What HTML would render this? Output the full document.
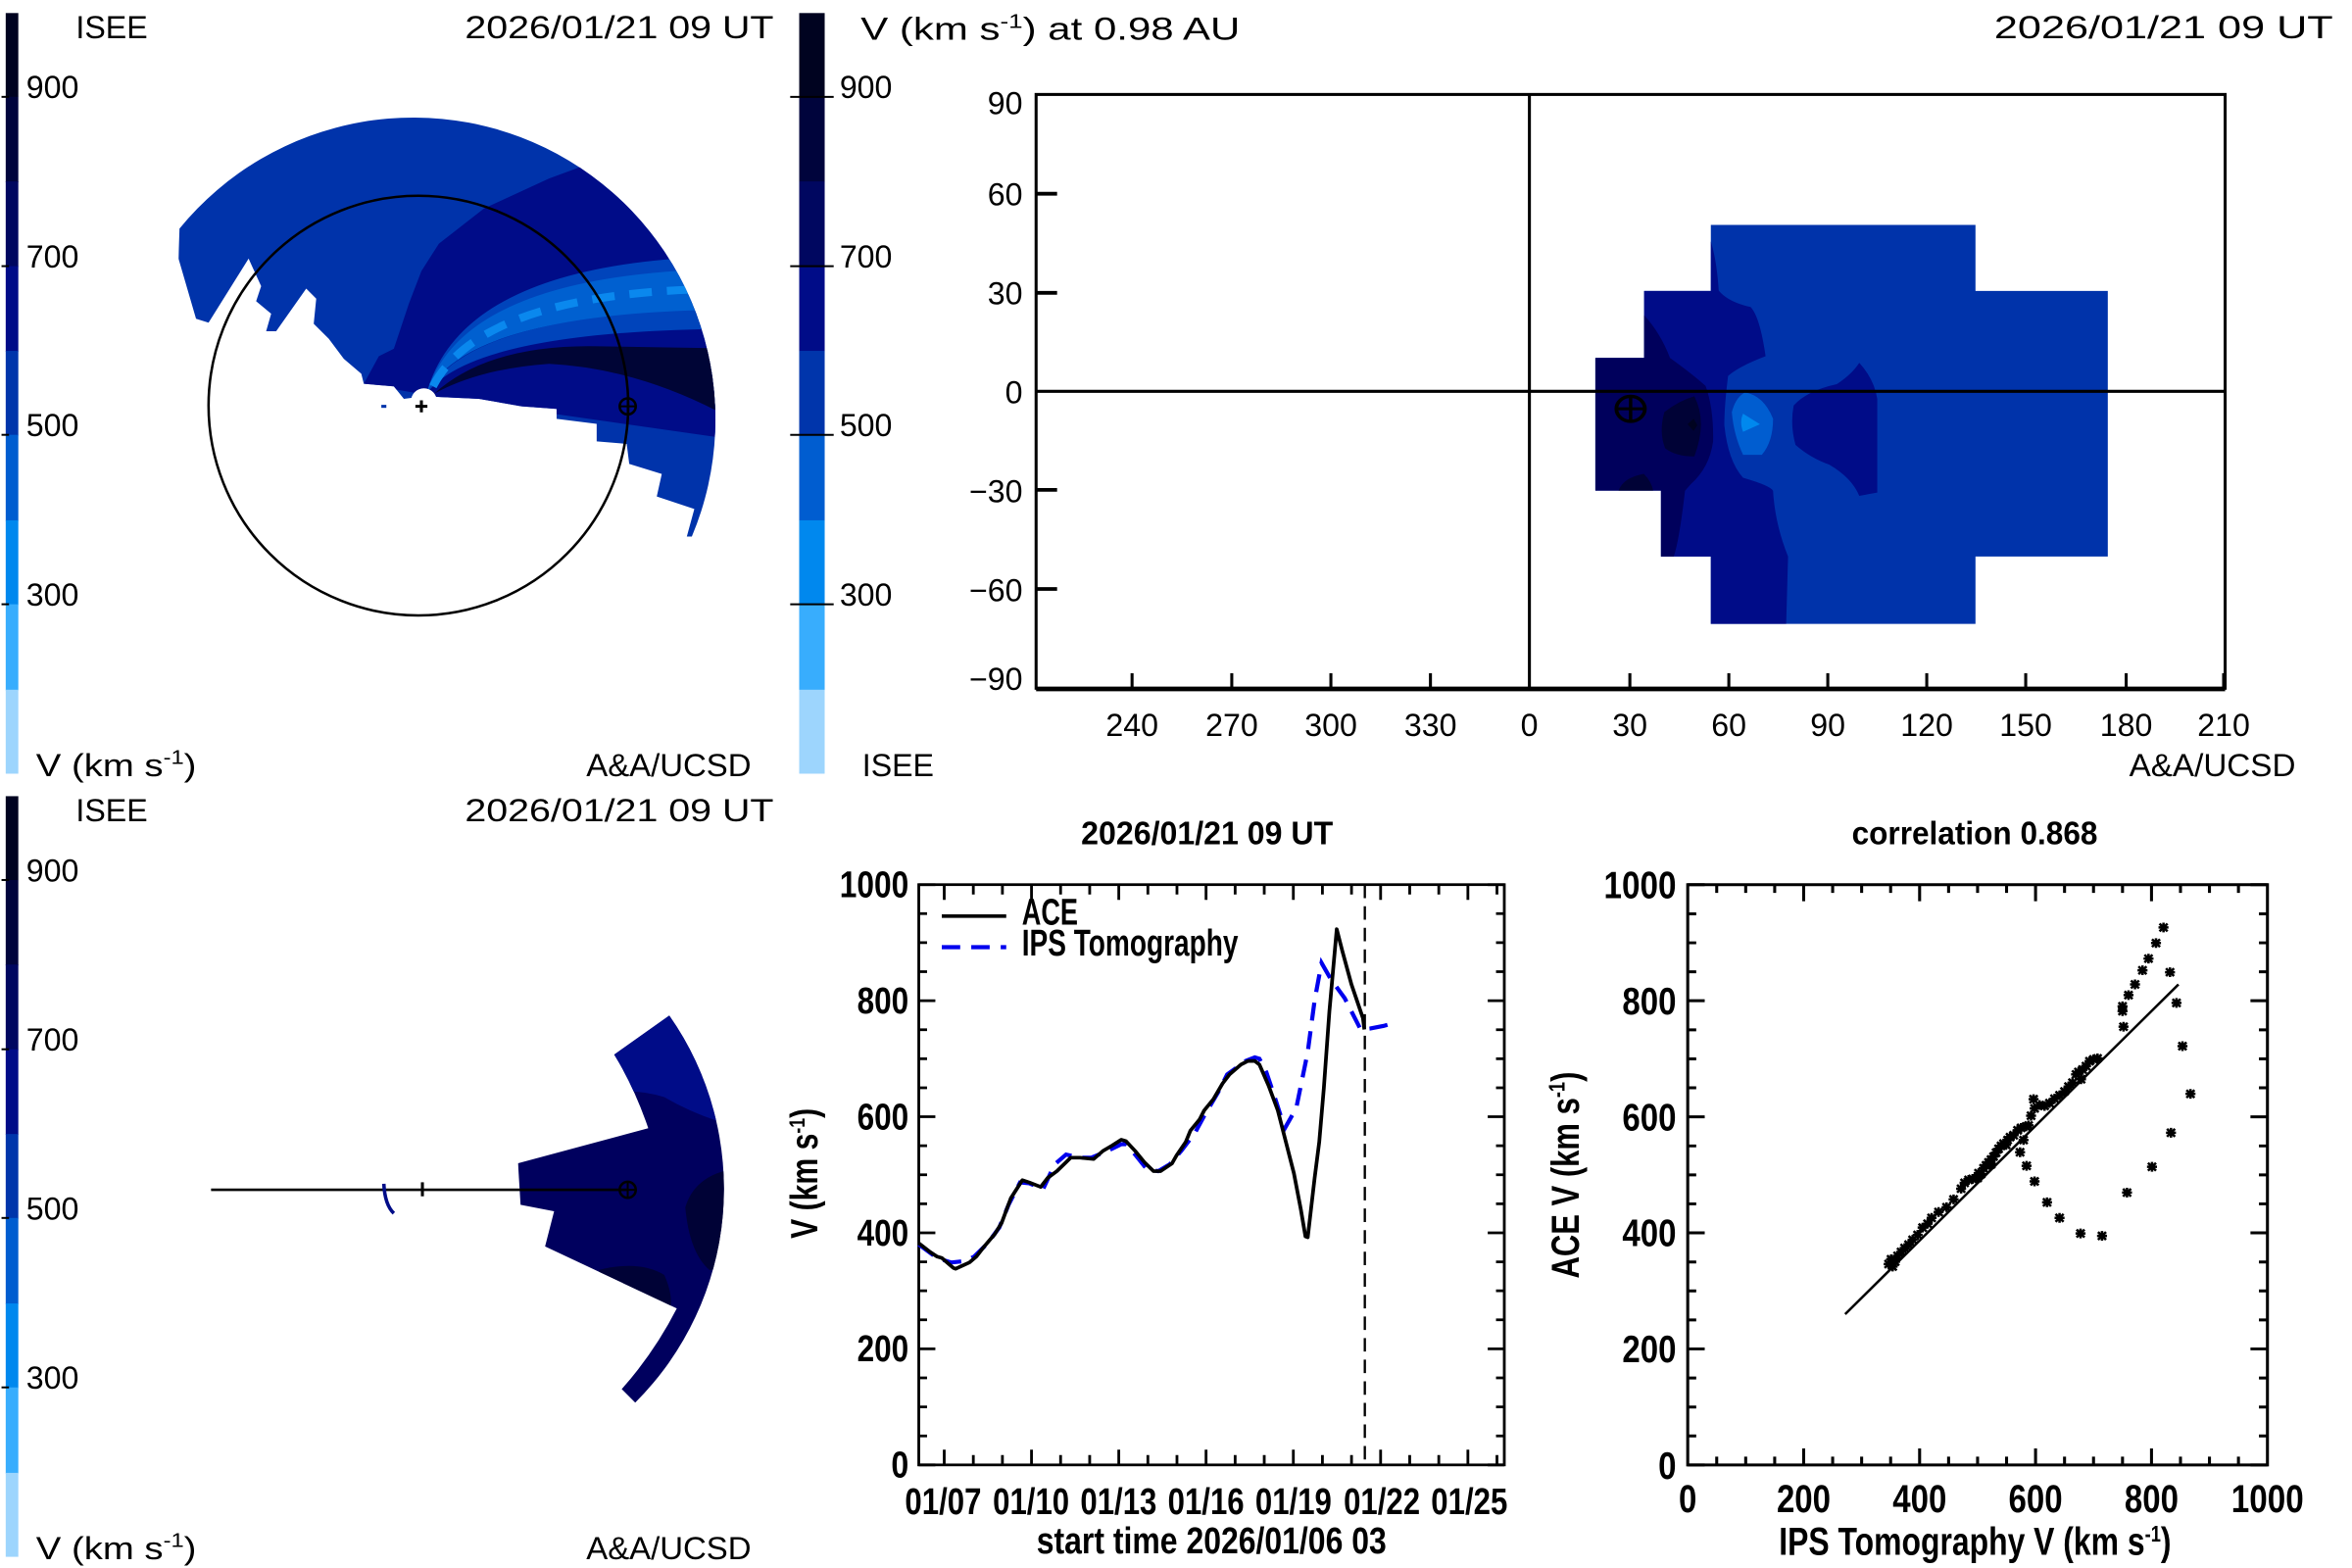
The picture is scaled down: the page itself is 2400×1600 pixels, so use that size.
<!DOCTYPE html>
<html><head><meta charset="utf-8"><style>
html,body{margin:0;padding:0;background:#fff;}
svg{display:block;}
.t{font-family:"Liberation Sans",sans-serif;fill:#000;}
.b{font-family:"Liberation Sans",sans-serif;font-weight:bold;fill:#000;}
</style></head><body>
<svg width="2400" height="1600" viewBox="0 0 1568.6 1045.75" xmlns="http://www.w3.org/2000/svg">
<defs>
<g id="cbar">
<rect x="0" y="8.7" width="1" height="56" fill="#000320"/>
<rect x="0" y="64.6" width="1" height="57" fill="#00043c"/>
<rect x="0" y="121" width="1" height="57" fill="#000760"/>
<rect x="0" y="177.5" width="1" height="57" fill="#000c88"/>
<rect x="0" y="234" width="1" height="56.5" fill="#0035ab"/>
<rect x="0" y="290" width="1" height="57.5" fill="#005dd0"/>
<rect x="0" y="347" width="1" height="56.5" fill="#0088ee"/>
<rect x="0" y="403" width="1" height="57.5" fill="#38adfd"/>
<rect x="0" y="460" width="1" height="56" fill="#9dd5fd"/>
</g>
<clipPath id="fan1"><path d="M1385,1075 A603,603 0 0 0 362,460 L360,520 L395,640 L420,648 L500,520 L525,575 L515,605 L545,630 L535,665 L555,665 L615,580 L635,600 L630,650 L660,680 L690,720 L725,750 L730,770 L790,775 L810,800 L850,795 L960,800 L1045,815 L1115,820 L1115,840 L1195,850 L1195,885 L1255,890 L1260,930 L1325,950 L1315,995 L1390,1020 L1375,1075 Z"/></clipPath>
<clipPath id="fan3"><path d="M1340,467 A603,603 0 0 1 1272,1240 L1245,1213 Q1310,1140 1355,1052 L1092,928 L1110,858 L1043,845 L1038,762 L1298,692 Q1270,610 1230,545 Z"/></clipPath>
<g id="m"><path d="M-8,-8L8,8M-8,8L8,-8M-10,0H10M0,-10V10" stroke="#000" stroke-width="5"/></g>
</defs>

<!-- ============ PANEL 1 ============ -->
<use href="#cbar" transform="translate(3.8,0) scale(8.4,1)"/>
<g stroke="#000" stroke-width="1.3">
<line x1="1" y1="64.6" x2="6" y2="64.6"/><line x1="1" y1="177.5" x2="6" y2="177.5"/>
<line x1="1" y1="290" x2="6" y2="290"/><line x1="1" y1="403" x2="6" y2="403"/>
</g>
<g class="t" font-size="21">
<text x="17.5" y="65.5">900</text><text x="17.5" y="178.5">700</text>
<text x="17.5" y="291">500</text><text x="17.5" y="404">300</text>
<text x="50.6" y="25.5">ISEE</text>
<text x="310" y="25.5" textLength="206" lengthAdjust="spacingAndGlyphs">2026/01/21  09  UT</text>
<text x="24" y="517.5" textLength="107" lengthAdjust="spacingAndGlyphs">V  (km  s<tspan font-size="13" dy="-8">-1</tspan><tspan dy="8">)</tspan></text>
<text x="391" y="517.5" textLength="110" lengthAdjust="spacingAndGlyphs">A&amp;A/UCSD</text>
</g>
<g transform="matrix(0.334 0 0 0.334 -1.2 -1.2)">
<g clip-path="url(#fan1)">
<rect x="300" y="150" width="1300" height="1000" fill="#0033aa"/>
<path d="M1195,300 L1195,325 L1100,360 L970,420 L880,490 L845,545 L820,610 L790,700 L760,715 L730,770 L900,800 L1600,900 L1600,300 Z" fill="#000c88"/>
<path d="M855,790 Q930,515 1500,515 L1500,545 Q930,545 855,790 Z" fill="#0044bb"/>
<path d="M855,790 Q930,540 1500,540 L1500,625 Q940,620 855,790 Z" fill="#0060d0"/>
<path d="M855,790 Q945,620 1500,622 L1500,660 Q950,660 855,790 Z" fill="#0044bb"/>
<path d="M870,790 Q980,690 1200,695 L1500,700 L1500,860 Q1300,740 1100,730 Q960,740 870,790 Z" fill="#000536"/>
<path d="M868,775 Q960,600 1380,582" fill="none" stroke="#0a88ee" stroke-width="16" stroke-dasharray="45 30"/>
</g>
<circle cx="839" cy="813.5" r="419" fill="none" stroke="#000" stroke-width="5"/>
<circle cx="850" cy="805" r="26" fill="#fff"/>
<path d="M833,815H857M845,803V827" stroke="#000" stroke-width="6"/>
<rect x="765" y="812" width="10" height="6" fill="#0033aa"/>
<circle cx="1257" cy="815" r="16" fill="none" stroke="#000" stroke-width="5"/>
<path d="M1241,815H1273M1257,799V831" stroke="#000" stroke-width="4"/>
</g>

<!-- ============ PANEL 2 ============ -->
<use href="#cbar" transform="translate(533,0) scale(17,1)"/>
<g stroke="#000" stroke-width="1.3">
<line x1="527" y1="64.6" x2="556" y2="64.6"/><line x1="527" y1="177.5" x2="556" y2="177.5"/>
<line x1="527" y1="290" x2="556" y2="290"/><line x1="527" y1="403" x2="556" y2="403"/>
</g>
<g class="t" font-size="21">
<text x="560" y="65.5">900</text><text x="560" y="178.5">700</text>
<text x="560" y="291">500</text><text x="560" y="404">300</text>
<text x="574" y="26.5" textLength="253" lengthAdjust="spacingAndGlyphs">V  (km  s<tspan font-size="13" dy="-8">-1</tspan><tspan dy="8">)  at  0.98  AU</tspan></text>
<text x="1330" y="25.5" textLength="226" lengthAdjust="spacingAndGlyphs">2026/01/21  09  UT</text>
<text x="575" y="517.5">ISEE</text>
<text x="1420" y="517.5" textLength="111" lengthAdjust="spacingAndGlyphs">A&amp;A/UCSD</text>
</g>
<g transform="matrix(0.25 0 0 0.219 1045 130.3)">
<path d="M384,90 H1090 V291 H1443 V1100 H1090 V1305 H384 V1100 H251 V899 H76 V495 H206 V291 H384 Z" fill="#0033aa"/>
<path d="M384,90 L384,140 Q400,200 405,290 Q430,325 490,340 Q515,370 530,490 Q460,520 430,550 Q420,640 420,700 Q430,810 470,860 Q545,885 550,900 Q555,1000 590,1100 L585,1305 H384 V1100 H251 V899 H76 V495 H206 V291 H384 Z" fill="#000c88"/>
<path d="M780,510 Q820,560 828,620 L828,905 L780,915 Q760,860 700,820 Q650,800 610,760 Q595,700 605,640 Q640,595 720,575 Q760,545 780,510 Z" fill="#000c88"/>
<path d="M206,365 Q250,420 275,495 Q330,540 370,580 Q392,650 390,750 Q380,830 330,880 L315,900 Q300,1050 285,1100 H251 V899 H76 V495 H206 Z" fill="#00005c"/>
<path d="M260,660 Q300,625 340,612 Q375,690 340,795 Q290,795 262,770 Q245,720 260,660 Z" fill="#000236"/>
<path d="M138,899 Q150,860 205,848 Q225,870 230,899 Z" fill="#000236"/>
<path d="M475,600 Q525,610 550,680 Q550,750 520,790 L470,790 Q445,730 440,660 Q450,615 475,600 Z" fill="#005dd0"/>
<path d="M470,665 L515,697 L470,720 Q460,690 470,665 Z" fill="#0088ee"/>
<path d="M322,697 L338,680 L348,700 L338,717 Z" fill="#000320"/>
<circle cx="170" cy="650" r="38" fill="none" stroke="#000" stroke-width="10"/>
<path d="M132,650H208M170,612V688" stroke="#000" stroke-width="9"/>
</g>
<g stroke="#000" fill="none">
<rect x="691" y="63" width="793" height="396" stroke-width="2"/>
<line x1="691" y1="459.5" x2="1484" y2="459.5" stroke-width="3"/>
<line x1="1020" y1="63" x2="1020" y2="459" stroke-width="2"/>
<line x1="691" y1="261" x2="1484" y2="261" stroke-width="2"/>
<path d="M691,129.2h14M691,195.3h14M691,326.7h14M691,392.8h14" stroke-width="2.5"/>
<path d="M755,459v-10M821.5,459v-10M887.6,459v-10M954,459v-10M1087,459v-10M1153,459v-10M1219,459v-10M1285,459v-10M1351,459v-10M1418,459v-10M1483,459v-10" stroke-width="2"/>
</g>
<g class="t" font-size="21" text-anchor="end">
<text x="682" y="76">90</text><text x="682" y="137">60</text><text x="682" y="203">30</text>
<text x="682" y="269">0</text><text x="682" y="335">−30</text><text x="682" y="401">−60</text><text x="682" y="460">−90</text>
</g>
<g class="t" font-size="21" text-anchor="middle">
<text x="755" y="491">240</text><text x="821.5" y="491">270</text><text x="887.6" y="491">300</text>
<text x="954" y="491">330</text><text x="1020" y="491">0</text><text x="1087" y="491">30</text>
<text x="1153" y="491">60</text><text x="1219" y="491">90</text><text x="1285" y="491">120</text>
<text x="1351" y="491">150</text><text x="1418" y="491">180</text><text x="1483" y="491">210</text>
</g>

<!-- ============ PANEL 3 ============ -->
<g transform="translate(0,522.3)">
<use href="#cbar" transform="translate(3.8,0) scale(8.4,1)"/>
<g stroke="#000" stroke-width="1.3">
<line x1="1" y1="64.6" x2="6" y2="64.6"/><line x1="1" y1="177.5" x2="6" y2="177.5"/>
<line x1="1" y1="290" x2="6" y2="290"/><line x1="1" y1="403" x2="6" y2="403"/>
</g>
<g class="t" font-size="21">
<text x="17.5" y="65.5">900</text><text x="17.5" y="178.5">700</text>
<text x="17.5" y="291">500</text><text x="17.5" y="404">300</text>
<text x="50.6" y="25.5">ISEE</text>
<text x="310" y="25.5" textLength="206" lengthAdjust="spacingAndGlyphs">2026/01/21  09  UT</text>
<text x="24" y="517.5" textLength="107" lengthAdjust="spacingAndGlyphs">V  (km  s<tspan font-size="13" dy="-8">-1</tspan><tspan dy="8">)</tspan></text>
<text x="391" y="517.5" textLength="110" lengthAdjust="spacingAndGlyphs">A&amp;A/UCSD</text>
</g>
</g>
<g transform="matrix(0.334 0 0 0.334 -1.2 521.3)">
<g clip-path="url(#fan3)">
<rect x="1000" y="400" width="500" height="900" fill="#00005e"/>
<path d="M1200,400 L1200,625 Q1270,610 1330,630 Q1390,665 1460,685 L1460,400 Z" fill="#000c88"/>
<path d="M1460,775 Q1390,790 1372,850 Q1380,940 1420,975 L1460,975 Z" fill="#000236"/>
<path d="M1200,975 Q1280,955 1330,985 Q1350,1030 1340,1060 L1200,1060 Z" fill="#000236"/>
</g>
<line x1="425" y1="815" x2="1257" y2="815" stroke="#000" stroke-width="5"/>
<line x1="847" y1="800" x2="847" y2="828" stroke="#000" stroke-width="6"/>
<path d="M770,803 Q772,845 790,862" fill="none" stroke="#000c88" stroke-width="7"/>
<circle cx="1257" cy="815" r="16" fill="none" stroke="#000" stroke-width="5"/>
<path d="M1241,815H1273M1257,799V831" stroke="#000" stroke-width="4"/>
</g>

<!-- ============ MIDDLE TIME SERIES ============ -->
<text class="b" x="805" y="563" font-size="22" text-anchor="middle" textLength="168" lengthAdjust="spacingAndGlyphs">2026/01/21 09 UT</text>
<g transform="matrix(0.307 0 0 0.300 536 575.6)">
<g stroke="#000" stroke-width="6" fill="none">
<rect x="250" y="48" width="1272" height="1290"/>
<path d="M250,1338h36M250,1080h36M250,822h36M250,564h36M250,306h36M250,48h36M1522,1338h-36M1522,1080h-36M1522,822h-36M1522,564h-36M1522,306h-36M1522,48h-36"/>
<path d="M250,1273.5h18M250,1209h18M250,1144.5h18M250,1015.5h18M250,951h18M250,886.5h18M250,757.5h18M250,693h18M250,628.5h18M250,499.5h18M250,435h18M250,370.5h18M250,241.5h18M250,177h18M250,112.5h18M1522,1273.5h-18M1522,1209h-18M1522,1144.5h-18M1522,1015.5h-18M1522,951h-18M1522,886.5h-18M1522,757.5h-18M1522,693h-18M1522,628.5h-18M1522,499.5h-18M1522,435h-18M1522,370.5h-18M1522,241.5h-18M1522,177h-18M1522,112.5h-18"/>
<path d="M305.3,1338v-34M368.5,1338v-22M431.7,1338v-22M494.9,1338v-34M558.1,1338v-22M621.3,1338v-22M684.5,1338v-34M747.7,1338v-22M810.9,1338v-22M874.1,1338v-34M937.3,1338v-22M1000.5,1338v-22M1063.7,1338v-34M1126.9,1338v-22M1190.1,1338v-22M1253.3,1338v-34M1316.5,1338v-22M1379.7,1338v-22M1442.9,1338v-34M1506.1,1338v-22"/>
<path d="M305.3,48v34M368.5,48v22M431.7,48v22M494.9,48v34M558.1,48v22M621.3,48v22M684.5,48v34M747.7,48v22M810.9,48v22M874.1,48v34M937.3,48v22M1000.5,48v22M1063.7,48v34M1126.9,48v22M1190.1,48v22M1253.3,48v34M1316.5,48v22M1379.7,48v22M1442.9,48v34M1506.1,48v22"/>
</g>
<line x1="1219" y1="48" x2="1219" y2="1338" stroke="#000" stroke-width="5" stroke-dasharray="30 18"/>
<polyline fill="none" stroke="#0000ee" stroke-width="9" stroke-dasharray="40 24" points="250,848 290,878 320,888 350,885 370,875 400,845 425,810 445,760 470,710 490,712 520,725 545,670 570,648 600,655 625,655 660,640 690,625 700,625 720,648 745,680 770,685 795,670 820,640 850,600 870,562 900,510 920,470 940,455 960,440 980,432 990,435 1005,465 1020,510 1045,590 1070,545 1095,420 1110,305 1125,222 1145,258 1175,300 1210,370 1230,368 1260,362 1285,355"/>
<polyline fill="none" stroke="#000" stroke-width="8" stroke-linejoin="round" points="250,845 275,865 290,875 300,878 325,900 330,902 345,895 360,888 375,875 390,855 415,825 430,800 450,745 475,705 490,710 515,720 530,700 550,685 570,665 580,655 600,655 630,658 650,640 670,628 690,615 700,618 720,640 740,665 760,685 775,685 800,668 810,650 830,620 840,595 860,570 870,550 890,525 910,490 925,470 950,448 965,440 980,440 990,448 1010,495 1030,550 1050,630 1065,690 1080,770 1090,830 1095,832 1110,700 1120,620 1130,500 1142,330 1158,147 1170,195 1190,270 1200,300 1215,345 1218,370"/>
<line x1="300" y1="118" x2="440" y2="118" stroke="#000" stroke-width="8"/>
<line x1="300" y1="187" x2="440" y2="187" stroke="#0000ee" stroke-width="9" stroke-dasharray="40 24"/>
<g class="b" font-size="82">
<text x="474" y="137" textLength="122" lengthAdjust="spacingAndGlyphs">ACE</text>
<text x="474" y="206" textLength="470" lengthAdjust="spacingAndGlyphs">IPS Tomography</text>
</g>
<g class="b" font-size="82" text-anchor="end">
<text x="228" y="1366" textLength="38" lengthAdjust="spacingAndGlyphs">0</text>
<text x="228" y="1108" textLength="112" lengthAdjust="spacingAndGlyphs">200</text>
<text x="228" y="850" textLength="112" lengthAdjust="spacingAndGlyphs">400</text>
<text x="228" y="592" textLength="112" lengthAdjust="spacingAndGlyphs">600</text>
<text x="228" y="334" textLength="112" lengthAdjust="spacingAndGlyphs">800</text>
<text x="228" y="76" textLength="150" lengthAdjust="spacingAndGlyphs">1000</text>
</g>
<g class="b" font-size="82" text-anchor="middle">
<text x="303" y="1447" textLength="166" lengthAdjust="spacingAndGlyphs">01/07</text>
<text x="494" y="1447" textLength="166" lengthAdjust="spacingAndGlyphs">01/10</text>
<text x="684" y="1447" textLength="166" lengthAdjust="spacingAndGlyphs">01/13</text>
<text x="874" y="1447" textLength="166" lengthAdjust="spacingAndGlyphs">01/16</text>
<text x="1064" y="1447" textLength="166" lengthAdjust="spacingAndGlyphs">01/19</text>
<text x="1256" y="1447" textLength="166" lengthAdjust="spacingAndGlyphs">01/22</text>
<text x="1446" y="1447" textLength="166" lengthAdjust="spacingAndGlyphs">01/25</text>
<text x="886" y="1535" textLength="760" lengthAdjust="spacingAndGlyphs">start time 2026/01/06 03</text>
</g>
<text class="b" font-size="82" text-anchor="middle" transform="translate(30,690) rotate(-90)" textLength="290" lengthAdjust="spacingAndGlyphs">V (km s<tspan font-size="48" dy="-28">-1</tspan><tspan dy="28">)</tspan></text>
</g>

<!-- ============ SCATTER ============ -->
<text class="b" x="1317" y="563" font-size="22" text-anchor="middle" textLength="164" lengthAdjust="spacingAndGlyphs">correlation 0.868</text>
<g transform="matrix(0.3333 0 0 0.3244 1019.6 536.5)">
<g stroke="#000" stroke-width="6" fill="none">
<rect x="318" y="165" width="1160" height="1193"/>
<path d="M318,1358h34M318,1119.4h34M318,880.8h34M318,642.2h34M318,403.6h34M318,165h34M1478,1358h-34M1478,1119.4h-34M1478,880.8h-34M1478,642.2h-34M1478,403.6h-34M1478,165h-34"/>
<path d="M318,1298.4h17M318,1238.9h17M318,1179.3h17M318,1059.8h17M318,1000.2h17M318,940.7h17M318,821.2h17M318,761.7h17M318,702.1h17M318,582.6h17M318,523.1h17M318,463.5h17M318,344.1h17M318,284.5h17M318,224.9h17M1478,1298.4h-17M1478,1238.9h-17M1478,1179.3h-17M1478,1059.8h-17M1478,1000.2h-17M1478,940.7h-17M1478,821.2h-17M1478,761.7h-17M1478,702.1h-17M1478,582.6h-17M1478,523.1h-17M1478,463.5h-17M1478,344.1h-17M1478,284.5h-17M1478,224.9h-17"/>
<path d="M550,1358v-34M782,1358v-34M1014,1358v-34M1246,1358v-34M550,165v34M782,165v34M1014,165v34M1246,165v34"/>
<path d="M376,1358v-17M434,1358v-17M492,1358v-17M608,1358v-17M666,1358v-17M724,1358v-17M840,1358v-17M898,1358v-17M956,1358v-17M1072,1358v-17M1130,1358v-17M1188,1358v-17M1304,1358v-17M1362,1358v-17M1420,1358v-17M376,165v17M434,165v17M492,165v17M608,165v17M666,165v17M724,165v17M840,165v17M898,165v17M956,165v17M1072,165v17M1130,165v17M1188,165v17M1304,165v17M1362,165v17M1420,165v17"/>
</g>
<line x1="633" y1="1048" x2="1300" y2="370" stroke="#000" stroke-width="5"/>
<g>
<use href="#m" x="720" y="945"/><use href="#m" x="725" y="935"/><use href="#m" x="728" y="950"/><use href="#m" x="733" y="940"/><use href="#m" x="738" y="928"/><use href="#m" x="745" y="920"/><use href="#m" x="752" y="912"/><use href="#m" x="760" y="905"/><use href="#m" x="768" y="895"/><use href="#m" x="778" y="885"/><use href="#m" x="788" y="870"/><use href="#m" x="798" y="862"/><use href="#m" x="806" y="850"/><use href="#m" x="820" y="838"/><use href="#m" x="836" y="828"/><use href="#m" x="850" y="812"/><use href="#m" x="865" y="790"/><use href="#m" x="872" y="778"/><use href="#m" x="880" y="772"/><use href="#m" x="888" y="770"/><use href="#m" x="898" y="768"/><use href="#m" x="905" y="760"/><use href="#m" x="910" y="748"/><use href="#m" x="915" y="742"/><use href="#m" x="920" y="736"/><use href="#m" x="925" y="730"/><use href="#m" x="930" y="724"/><use href="#m" x="935" y="716"/><use href="#m" x="940" y="708"/><use href="#m" x="945" y="702"/><use href="#m" x="950" y="697"/><use href="#m" x="958" y="690"/><use href="#m" x="963" y="684"/><use href="#m" x="970" y="680"/><use href="#m" x="978" y="670"/><use href="#m" x="985" y="665"/><use href="#m" x="995" y="662"/><use href="#m" x="1005" y="640"/><use href="#m" x="1012" y="625"/><use href="#m" x="1022" y="618"/><use href="#m" x="1032" y="620"/><use href="#m" x="1042" y="614"/><use href="#m" x="1052" y="605"/><use href="#m" x="1062" y="598"/><use href="#m" x="1072" y="590"/><use href="#m" x="1080" y="580"/><use href="#m" x="1088" y="572"/><use href="#m" x="1095" y="555"/><use href="#m" x="1100" y="550"/><use href="#m" x="1108" y="545"/><use href="#m" x="1115" y="538"/><use href="#m" x="1122" y="528"/><use href="#m" x="1130" y="524"/><use href="#m" x="1138" y="522"/><use href="#m" x="1105" y="565"/><use href="#m" x="900" y="758"/><use href="#m" x="925" y="740"/><use href="#m" x="955" y="700"/><use href="#m" x="990" y="690"/><use href="#m" x="1010" y="606"/><use href="#m" x="1000" y="660"/>
<use href="#m" x="1270" y="253"/><use href="#m" x="1255" y="285"/><use href="#m" x="1240" y="317"/><use href="#m" x="1228" y="341"/><use href="#m" x="1213" y="370"/><use href="#m" x="1200" y="392"/><use href="#m" x="1188" y="415"/><use href="#m" x="1188" y="425"/><use href="#m" x="1190" y="457"/><use href="#m" x="1283" y="345"/><use href="#m" x="1296" y="408"/><use href="#m" x="1308" y="497"/><use href="#m" x="1324" y="595"/><use href="#m" x="1285" y="675"/><use href="#m" x="1247" y="745"/><use href="#m" x="1197" y="798"/><use href="#m" x="1147" y="887"/><use href="#m" x="1104" y="882"/><use href="#m" x="1062" y="850"/><use href="#m" x="1037" y="818"/><use href="#m" x="1012" y="775"/><use href="#m" x="996" y="743"/><use href="#m" x="983" y="715"/>
</g>
<g class="b" font-size="78" text-anchor="end">
<text x="295" y="1386" textLength="36" lengthAdjust="spacingAndGlyphs">0</text>
<text x="295" y="1147" textLength="108" lengthAdjust="spacingAndGlyphs">200</text>
<text x="295" y="908" textLength="108" lengthAdjust="spacingAndGlyphs">400</text>
<text x="295" y="670" textLength="108" lengthAdjust="spacingAndGlyphs">600</text>
<text x="295" y="431" textLength="108" lengthAdjust="spacingAndGlyphs">800</text>
<text x="295" y="193" textLength="145" lengthAdjust="spacingAndGlyphs">1000</text>
</g>
<g class="b" font-size="80" text-anchor="middle">
<text x="318" y="1455" textLength="36" lengthAdjust="spacingAndGlyphs">0</text>
<text x="550" y="1455" textLength="108" lengthAdjust="spacingAndGlyphs">200</text>
<text x="782" y="1455" textLength="108" lengthAdjust="spacingAndGlyphs">400</text>
<text x="1014" y="1455" textLength="108" lengthAdjust="spacingAndGlyphs">600</text>
<text x="1246" y="1455" textLength="108" lengthAdjust="spacingAndGlyphs">800</text>
<text x="1478" y="1455" textLength="145" lengthAdjust="spacingAndGlyphs">1000</text>
<text x="893" y="1543" textLength="785" lengthAdjust="spacingAndGlyphs">IPS Tomography V (km s<tspan font-size="46" dy="-28">-1</tspan><tspan dy="28">)</tspan></text>
</g>
<text class="b" font-size="78" text-anchor="middle" transform="translate(100,762) rotate(-90)" textLength="425" lengthAdjust="spacingAndGlyphs">ACE V (km s<tspan font-size="46" dy="-28">-1</tspan><tspan dy="28">)</tspan></text>
</g>
</svg>
</body></html>
